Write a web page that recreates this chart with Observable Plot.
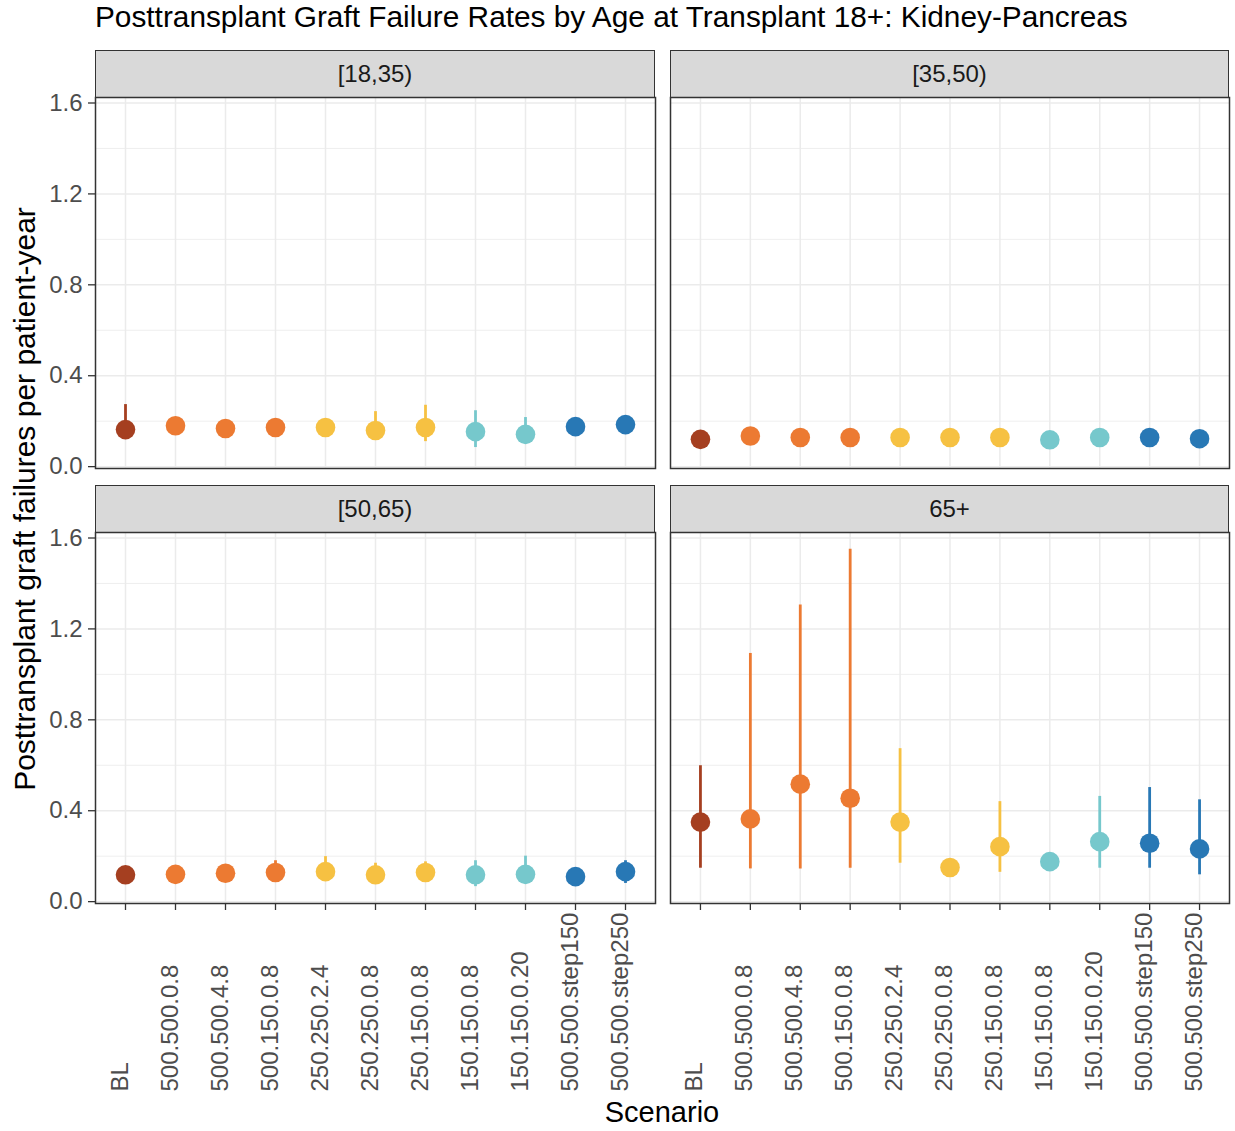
<!DOCTYPE html>
<html><head><meta charset="utf-8">
<script src="https://cdn.jsdelivr.net/npm/d3@7"></script>
<script src="https://cdn.jsdelivr.net/npm/@observablehq/plot@0.6"></script>
<style>
html,body{margin:0;padding:0;overflow:hidden;background:#fff;font-family:"Liberation Sans",Arial,sans-serif;}
#root{position:relative;width:1235px;height:1131px;overflow:hidden;background:#fff;}
.strip{position:absolute;background:#d9d9d9;border:1.5px solid #333;box-sizing:border-box;display:flex;align-items:center;justify-content:center;font-size:24px;color:#1a1a1a;}
.title{position:absolute;left:95px;top:0px;font-size:29.8px;color:#000;white-space:nowrap;}
.ytitle{position:absolute;left:25px;top:499px;transform:translate(-50%,-50%) rotate(-90deg);font-size:30px;color:#000;white-space:nowrap;}
.xtitle{position:absolute;left:662px;top:1112px;transform:translate(-50%,-50%);font-size:29px;color:#000;white-space:nowrap;}
.panel{position:absolute;}
.panel svg{max-width:none !important;display:block;}
</style></head>
<body><div id="root"></div>
<script>
const scenarios = ["BL","500.500.0.8","500.500.4.8","500.150.0.8","250.250.2.4","250.250.0.8","250.150.0.8","150.150.0.8","150.150.0.20","500.500.step150","500.500.step250"];
const ageGroups = ["[18,35)","[35,50)","[50,65)","65+"];
const palette = ["#a53f20","#ec7a32","#ec7a32","#ec7a32","#f6c142","#f6c142","#f6c142","#76c8cc","#76c8cc","#2878b5","#2878b5"];

const rate18_35 = [0.163,0.180,0.168,0.172,0.172,0.159,0.172,0.154,0.142,0.176,0.185];
const lo18_35   = [0.125,0.150,0.140,0.145,0.140,0.130,0.110,0.084,0.110,0.150,0.160];
const hi18_35   = [0.273,0.200,0.190,0.200,0.205,0.242,0.270,0.246,0.216,0.200,0.210];

const rate35_50 = [0.120,0.135,0.128,0.128,0.128,0.128,0.128,0.118,0.128,0.128,0.123];
const lo35_50   = [0.100,0.115,0.108,0.108,0.108,0.108,0.108,0.098,0.108,0.108,0.103];
const hi35_50   = [0.140,0.155,0.148,0.148,0.148,0.148,0.148,0.138,0.148,0.148,0.143];

const rate50_65 = [0.118,0.120,0.125,0.128,0.132,0.118,0.128,0.118,0.120,0.110,0.132];
const lo50_65   = [0.090,0.095,0.100,0.100,0.100,0.090,0.100,0.066,0.080,0.090,0.080];
const hi50_65   = [0.150,0.150,0.160,0.180,0.198,0.169,0.175,0.180,0.200,0.140,0.180];

const rate65 = [0.350,0.364,0.517,0.455,0.350,0.150,0.242,0.176,0.264,0.257,0.232];
const lo65   = [0.147,0.144,0.144,0.147,0.169,0.120,0.129,0.150,0.147,0.147,0.118];
const hi65   = [0.598,1.092,1.305,1.550,0.673,0.180,0.440,0.200,0.463,0.502,0.448];

const yTicks = [0, 0.4, 0.8, 1.2, 1.6];
const yMinor = [0.2, 0.6, 1.0, 1.4];

const series = [
  {rate: rate18_35, lo: lo18_35, hi: hi18_35},
  {rate: rate35_50, lo: lo35_50, hi: hi35_50},
  {rate: rate50_65, lo: lo50_65, hi: hi50_65},
  {rate: rate65, lo: lo65, hi: hi65}
];
const tables = series.map((s, gi) => scenarios.map((sc, i) => ({age: ageGroups[gi], scenario: sc, rate: s.rate[i], lo: s.lo[i], hi: s.hi[i]})));

// ggplot-like 5% expansion of the shared y range
const allLo = d3.min(tables.flat(), d => d.lo);
const allHi = d3.max(tables.flat(), d => d.hi);
const ext = (allHi - allLo) * 0.05;
const yDomain = [allLo - ext, allHi + ext];

const root = document.getElementById("root");
const add = (cls, text, style) => { const d = document.createElement("div"); d.className = cls; d.textContent = text; if (style) Object.assign(d.style, style); root.appendChild(d); return d; };

add("title", "Posttransplant Graft Failure Rates by Age at Transplant 18+: Kidney-Pancreas");
add("ytitle", "Posttransplant graft failures per patient-year");
add("xtitle", "Scenario");

const frames = [
  {x0: 95, x1: 655, y0: 97, y1: 468, left: true, bottom: false},
  {x0: 670, x1: 1229, y0: 97, y1: 468, left: false, bottom: false},
  {x0: 95, x1: 655, y0: 532, y1: 903, left: true, bottom: true},
  {x0: 670, x1: 1229, y0: 532, y1: 903, left: false, bottom: true}
];

frames.forEach((f, gi) => {
  const stripH = 47;
  add("strip", ageGroups[gi], {left: f.x0 + "px", top: (f.y0 - stripH) + "px", width: (f.x1 - f.x0) + "px", height: (stripH + 1) + "px"});

  const mL = f.left ? f.x0 : 5;
  const mR = 4, mT = 2;
  const mB = f.bottom ? 225 : 3;
  const svgLeft = f.x0 - mL;
  const svgTop = f.y0 - mT;
  const W = (f.x1 - f.x0) + mL + mR;
  const H = (f.y1 - f.y0) + mT + mB;

  const marks = [
    Plot.ruleY(yMinor, {stroke: "#ebebeb", strokeWidth: 0.8}),
    Plot.ruleY(yTicks, {stroke: "#ebebeb", strokeWidth: 1.5}),
    Plot.ruleX(scenarios, {stroke: "#ebebeb", strokeWidth: 1.5}),
    Plot.ruleX(tables[gi], {x: "scenario", y1: "lo", y2: "hi", stroke: "scenario", strokeWidth: 2.8}),
    Plot.dot(tables[gi], {x: "scenario", y: "rate", fill: "scenario", r: 9.8, stroke: null}),
    Plot.frame({stroke: "#333", strokeWidth: 1.5})
  ];
  if (f.left) {
    marks.push(Plot.axisY({ticks: yTicks, tickFormat: d => d.toFixed(1), tickSize: 7, tickPadding: 6, fontSize: 24, stroke: "#333", fill: "#4d4d4d", strokeWidth: 1.3, label: null}));
  }
  if (f.bottom) {
    marks.push(Plot.axisX({tickSize: 7, tickFormat: () => "", stroke: "#333", strokeWidth: 1.3, label: null}));
    marks.push(Plot.text(scenarios, {x: d => d, frameAnchor: "bottom", rotate: -90, textAnchor: "start", dy: 188, dx: 2, fontSize: 24, fill: "#4d4d4d"}));
  }

  const p = Plot.plot({
    width: W, height: H,
    marginLeft: mL, marginRight: mR, marginTop: mT, marginBottom: mB,
    x: {type: "point", domain: scenarios, padding: 0.6, round: false, axis: null},
    y: {domain: yDomain, axis: null},
    color: {domain: scenarios, range: palette},
    style: {fontFamily: "'Liberation Sans', Arial, sans-serif", background: "transparent", overflow: "visible", color: "#4d4d4d"},
    marks
  });
  const wrap = document.createElement("div");
  wrap.className = "panel";
  wrap.style.left = svgLeft + "px";
  wrap.style.top = svgTop + "px";
  wrap.style.width = W + "px";
  wrap.style.height = H + "px";
  wrap.appendChild(p);
  root.appendChild(wrap);
});
</script>
</body></html>
